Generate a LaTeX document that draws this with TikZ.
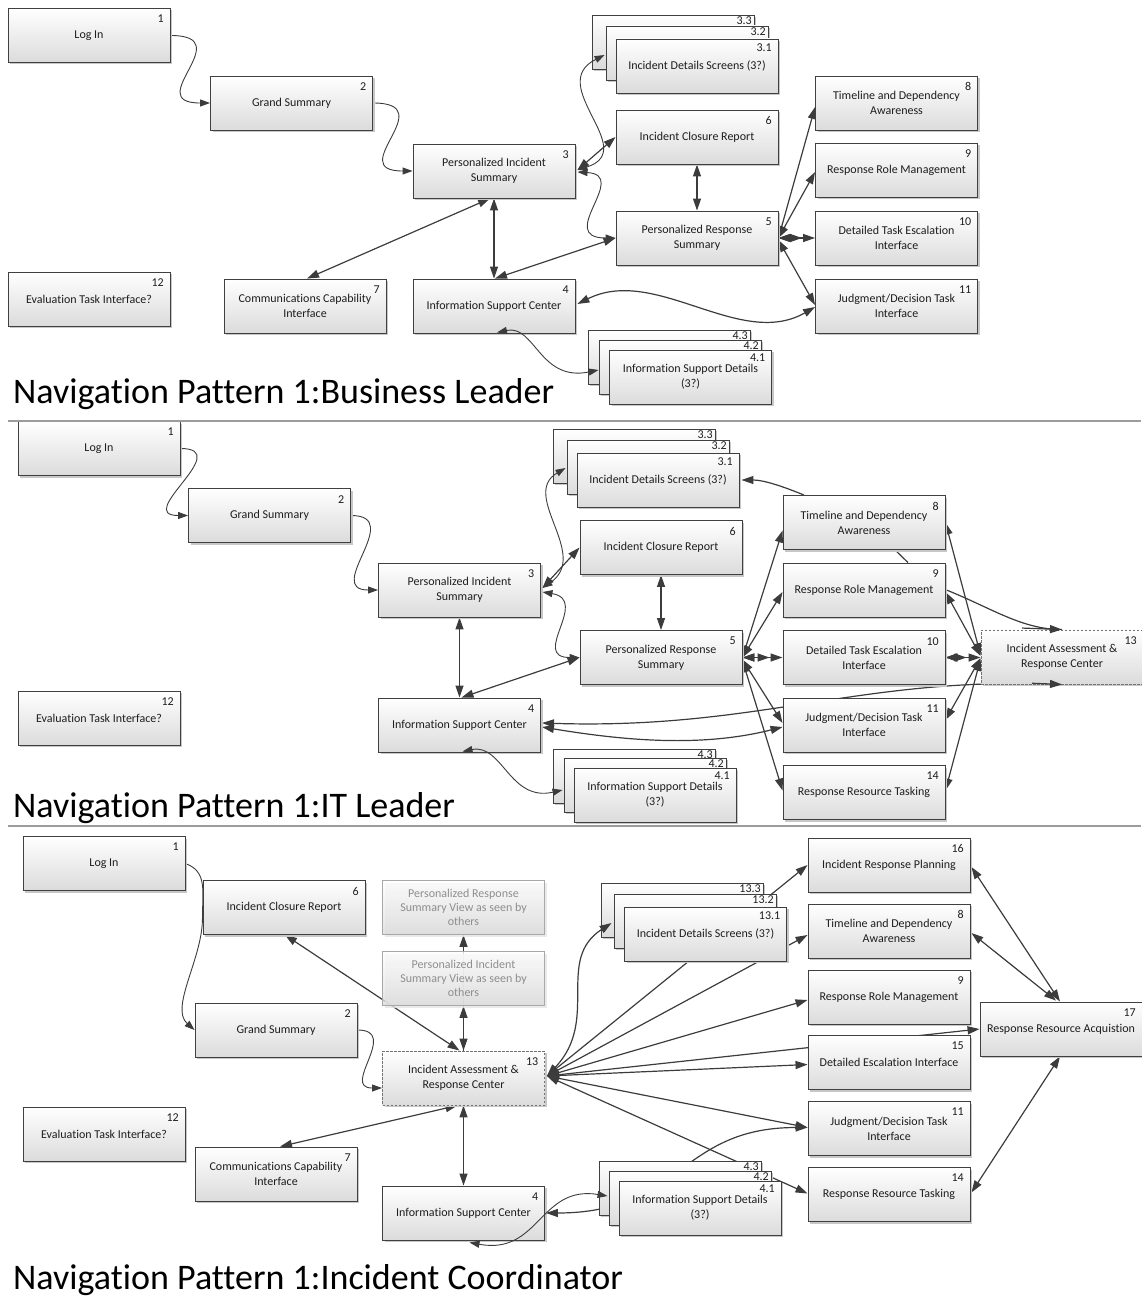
\documentclass[tikz,border=0pt]{standalone}
\usepackage{fontspec}
\setmainfont[Ligatures={NoCommon}]{Carlito}
\usetikzlibrary{arrows.meta,shadows}
\pgfdeclarelayer{wires}
\pgfsetlayers{wires,main}

\definecolor{linec}{HTML}{3C3C3C}
\definecolor{boxline}{HTML}{404040}
\definecolor{txt}{HTML}{1E1E1E}
\definecolor{ghostline}{HTML}{A8A8A8}
\definecolor{ghosttxt}{HTML}{8E8E8E}
\definecolor{rulec}{HTML}{9C9C9C}

\tikzset{
  boxbase/.style={draw=boxline, line width=0.9pt, top color=white, bottom color=black!14,
    minimum width=162pt, minimum height=54pt, inner sep=1pt, align=center, text=txt,
    font=\fontsize{12}{15}\selectfont},
  box/.style={boxbase, general shadow={fill=black!22, shadow xshift=2pt, shadow yshift=-2pt}},
  ghost/.style={boxbase, draw=ghostline, text=ghosttxt, fill opacity=0.8, text opacity=1,
    font=\fontsize{12}{14}\selectfont,
    general shadow={fill=black!10, shadow xshift=2pt, shadow yshift=-2pt}},
  hub/.style={draw=black!55, dash pattern=on 2.5pt off 1.5pt},
  num/.style={inner sep=0pt, anchor=north east, text=txt, font=\fontsize{12}{14}\selectfont},
  title/.style={anchor=base west, inner sep=0pt, text=black, font=\fontsize{36}{40}\selectfont},
  wire/.style={draw=linec, line width=1.2pt},
  twin/.style={wire, {Triangle[length=12pt,width=8pt]}-{Triangle[length=12pt,width=8pt]}},
  one/.style={wire, -{Triangle[length=12pt,width=8pt]}},
  back/.style={wire, {Triangle[length=12pt,width=8pt]}-},
  ctwin/.style={draw=linec, line width=0.9pt, {Triangle[length=10pt,width=7pt]}-{Triangle[length=10pt,width=7pt]}},
  cone/.style={draw=linec, line width=0.9pt, -{Triangle[length=10pt,width=7pt]}},
}

% screen box with its number in the top right corner
\newcommand\navbox[5][]{%
  \node[box,#1] (#2) at (#3) {#4};
  \node[num] (#2-num) at ([shift={(-6.5,7)}]#2.north east) {#5};}
% front box of a stack of screens
\newcommand\navfront[4]{%
  \node[box] (#1) at (#2) {#3};
  \node[num] (#1-num) at ([shift={(-6.5,4.5)}]#1.north east) {#4};}
% back box of a stack of screens
\newcommand\navback[3]{%
  \node[box] (#1) at (#2) {};
  \node[num] (#1-num) at ([shift={(-2.5,1.5)}]#1.north east) {#3};}

\begin{document}
\begin{tikzpicture}[x=1pt,y=-1pt]
\useasboundingbox (0,0) rectangle (1141,1298);

% ---------------- Business Leader ----------------
\navbox{p1n1}{89,35.5}{Log In}{1}
\navbox{p1n2}{291.5,103}{Grand Summary}{2}
\navbox{p1n3}{494,171}{Personalized Incident\\Summary}{3}
\navbox{p1n12}{89,299}{Evaluation Task Interface?}{12}
\navbox{p1n7}{305,306}{Communications Capability\\Interface}{7}
\navbox{p1n4}{494,306}{Information Support Center}{4}
\navback{p1s33}{673,42}{3.3}
\navback{p1s32}{687,53}{3.2}
\navfront{p1n31}{697,66}{Incident Details Screens (3?)}{3.1}
\navbox{p1n6}{697,137}{Incident Closure Report}{6}
\navbox{p1n5}{697,238}{Personalized Response\\Summary}{5}
\navbox{p1n8}{896.5,103}{Timeline and Dependency\\Awareness}{8}
\navbox{p1n9}{896.5,170}{Response Role Management}{9}
\navbox{p1n10}{896.5,238}{Detailed Task Escalation\\Interface}{10}
\navbox{p1n11}{896.5,306}{Judgment/Decision Task\\Interface}{11}
\navback{p1s43}{669,357}{4.3}
\navback{p1s42}{680,367}{4.2}
\navfront{p1n41}{690.5,377}{Information Support Details\\(3?)}{4.1}
\node[title] (t1) at (13,403.5) {Navigation Pattern 1:Business Leader};

% ---------------- IT Leader ----------------
\navbox{p2n1}{99,448.5}{Log In}{1}
\navbox{p2n2}{269.5,515.5}{Grand Summary}{2}
\navbox{p2n3}{459.5,590}{Personalized Incident\\Summary}{3}
\navbox{p2n12}{99,718}{Evaluation Task Interface?}{12}
\navbox{p2n4}{459.5,725}{Information Support Center}{4}
\navback{p2s33}{634,456}{3.3}
\navback{p2s32}{648,467}{3.2}
\navfront{p2n31}{658,480}{Incident Details Screens (3?)}{3.1}
\navbox{p2n6}{661,547.5}{Incident Closure Report}{6}
\navbox{p2n5}{661,657.5}{Personalized Response\\Summary}{5}
\navbox{p2n8}{864,522.5}{Timeline and Dependency\\Awareness}{8}
\navbox{p2n9}{864,590}{Response Role Management}{9}
\navbox{p2n10}{864,657.5}{Detailed Task Escalation\\Interface}{10}
\navbox{p2n11}{864,725}{Judgment/Decision Task\\Interface}{11}
\navbox{p2n14}{864,792.5}{Response Resource Tasking}{14}
\navbox[hub]{p2n13}{1062,657}{Incident Assessment \&\\Response Center}{13}
\navback{p2s43}{634,776}{4.3}
\navback{p2s42}{645,785}{4.2}
\navfront{p2n41}{655,795}{Information Support Details\\(3?)}{4.1}
\node[title] (t2) at (13,817) {Navigation Pattern 1:IT Leader};

% ---------------- Incident Coordinator ----------------
\navbox{p3n1}{104,863.5}{Log In}{1}
\navbox{p3n6}{284,907.5}{Incident Closure Report}{6}
\node[ghost] (p3prv) at (463.5,907.5) {Personalized Response\\Summary View as seen by\\others};
\node[ghost] (p3piv) at (463.5,978.5) {Personalized Incident\\Summary View as seen by\\others};
\navbox{p3n2}{276,1030}{Grand Summary}{2}
\navbox[hub]{p3n13}{463.5,1078}{Incident Assessment \&\\Response Center}{13}
\navbox{p3n12}{104,1134}{Evaluation Task Interface?}{12}
\navbox{p3n7}{276,1174}{Communications Capability\\Interface}{7}
\navbox{p3n4}{463.5,1213}{Information Support Center}{4}
\navback{p3s133}{682,910}{13.3}
\navback{p3s132}{695,921}{13.2}
\navfront{p3n131}{705.5,934}{Incident Details Screens (3?)}{13.1}
\navbox{p3n16}{889,865}{Incident Response Planning}{16}
\navbox{p3n8}{889,931}{Timeline and Dependency\\Awareness}{8}
\navbox{p3n9}{889,997}{Response Role Management}{9}
\navbox{p3n15}{889,1062.5}{Detailed Escalation Interface}{15}
\navbox{p3n11}{889,1128.5}{Judgment/Decision Task\\Interface}{11}
\navbox{p3n14}{889,1194.5}{Response Resource Tasking}{14}
\navbox{p3n17}{1061,1029}{Response Resource Acquistion}{17}
\navback{p3s43}{680,1188}{4.3}
\navback{p3s42}{690,1198}{4.2}
\navfront{p3n41}{700,1208}{Information Support Details\\(3?)}{4.1}
\node[title] (t3) at (13,1289) {Navigation Pattern 1:Incident Coordinator};

% panel rules
\draw[rulec, line width=1.2pt] (8,421) -- (1141,421);
\draw[rulec, line width=1.2pt] (8,826) -- (1141,826);

\begin{pgfonlayer}{wires}
% ---- Business Leader links
\draw[cone] (p1n1.east) .. controls +(70,0) and +(-70,0) .. (p1n2.west);
\draw[cone] (p1n2.east) .. controls +(70,0) and +(-70,0) .. (p1n3.west);
\draw[twin] ([shift={(-4,0)}]p1n3.south) -- ([shift={(2,0)}]p1n7.north);
\draw[twin] (p1n3.south) -- (p1n4.north);
\draw[twin] ([shift={(1,0)}]p1n4.north) -- (p1n5.west);
\draw[twin] ([shift={(2,-1)}]p1n3.east) -- (p1n6.west);
\draw[ctwin] ([shift={(2,1)}]p1n3.east) .. controls +(53,3) and +(-61,0) .. (p1n5.west);
\draw[twin] (p1n6.south) -- (p1n5.north);
\draw[twin] (p1n5.east) -- ([shift={(0,4)}]p1n8.west);
\draw[twin] (p1n5.east) -- ([shift={(0,2)}]p1n9.west);
\draw[twin] (p1n5.east) -- (p1n10.west);
\draw[twin] (p1n5.east) -- ([shift={(-13,0)}]p1n10.west);
\draw[twin] ([shift={(0,2)}]p1n5.east) -- ([shift={(0,-1)}]p1n11.west);
\draw[twin] ([shift={(2,-2)}]p1n4.east) .. controls +(78,-39) and +(-75,43) .. ([shift={(0,1)}]p1n11.west);

% ---- IT Leader links
\draw[cone] (p2n1.east) .. controls +(55,0) and +(-55,0) .. (p2n2.west);
\draw[cone] (p2n2.east) .. controls +(55,0) and +(-55,0) .. (p2n3.west);
\draw[twin] (p2n3.south) -- (p2n4.north);
\draw[twin] ([shift={(2,0)}]p2n4.north) -- (p2n5.west);
\draw[twin] ([shift={(1.5,-2)}]p2n3.east) -- (p2n6.west);
\draw[ctwin] ([shift={(1.5,2)}]p2n3.east) .. controls +(48,8) and +(-50,0) .. (p2n5.west);
\draw[twin] (p2n6.south) -- (p2n5.north);
\draw[twin] (p2n5.east) -- ([shift={(0,8)}]p2n8.west);
\draw[twin] (p2n5.east) -- ([shift={(0,2)}]p2n9.west);
\draw[twin] (p2n5.east) -- (p2n10.west);
\draw[twin] (p2n5.east) -- ([shift={(-13,0)}]p2n10.west);
\draw[twin] ([shift={(0,2)}]p2n5.east) -- ([shift={(0,-2)}]p2n11.west);
\draw[twin] ([shift={(0,3)}]p2n5.east) -- ([shift={(0,-2)}]p2n14.west);
\draw[one] ([shift={(-60,0)}]p2n8.north) .. controls +(-22,-9) and +(22,0) .. ([shift={(2,0)}]p2n31.east);
\draw[wire] ([shift={(31,0)}]p2n8.south) -- ([shift={(44,0)}]p2n9.north);
\draw[wire] ([shift={(1,0)}]p2n9.east) .. controls +(45,18) and +(-40,0) .. (p2n13.north);
\draw[back] ([shift={(1,-2)}]p2n4.east) .. controls +(218,7) and +(-202,-9) .. (p2n13.south);
\draw[twin] ([shift={(1,2)}]p2n4.east) .. controls +(79,13) and +(-83,21) .. ([shift={(0,2)}]p2n11.west);
\draw[twin] ([shift={(0,-2)}]p2n13.west) -- (p2n8.east);
\draw[twin] ([shift={(0,-1)}]p2n13.west) -- ([shift={(0,2)}]p2n9.east);
\draw[twin] (p2n10.east) -- ([shift={(0,0.5)}]p2n13.west);
\draw[twin] (p2n10.east) -- ([shift={(-14,0.5)}]p2n13.west);
\draw[twin] ([shift={(0,1)}]p2n13.west) -- ([shift={(0,-5)}]p2n11.east);
\draw[twin] ([shift={(0,2)}]p2n13.west) -- ([shift={(0,-2)}]p2n14.east);

% ---- Incident Coordinator links
\draw[cone] (p3n1.east) .. controls +(22,8) and +(0,-28) .. ++(17,55)
            .. controls +(0,40) and +(-25,-22) .. (p3n2.west);
\draw[cone] (p3n2.east) .. controls +(43,0) and +(-42,0) .. ([shift={(0,10)}]p3n13.west);
\draw[twin] ([shift={(1,0)}]p3n6.south) -- ([shift={(-4,0)}]p3n13.north);
\draw[one] (p3n13.north) -- (p3prv.south);
\draw[twin] (p3n13.north) -- (p3piv.south);
\draw[twin] ([shift={(-6,0)}]p3n13.south) -- ([shift={(4,0)}]p3n7.north);
\draw[twin] (p3n13.south) -- (p3n4.north);
\draw[twin] ([shift={(2,-2)}]p3n13.east) -- (p3n16.west);
\draw[twin] ([shift={(2,-2)}]p3n13.east) -- ([shift={(0,4)}]p3n8.west);
\draw[twin] ([shift={(2,-2)}]p3n13.east) -- ([shift={(0,3)}]p3n9.west);
\draw[twin] ([shift={(2,-2)}]p3n13.east) -- (p3n17.west);
\draw[twin] ([shift={(2,-2)}]p3n13.east) -- ([shift={(0,2)}]p3n15.west);
\draw[twin] ([shift={(2,-2)}]p3n13.east) -- ([shift={(0,-1)}]p3n11.west);
\draw[twin] ([shift={(2,-2)}]p3n13.east) -- ([shift={(0,-1)}]p3n14.west);
\draw[twin] ([shift={(1,0)}]p3n4.east) .. controls +(135,0) and +(-128,0) .. ([shift={(0,-1)}]p3n11.west);
\draw[twin] ([shift={(1,2)}]p3n16.east) -- ([shift={(-1,0)}]p3n17.north);
\draw[twin] ([shift={(1,2)}]p3n8.east) -- ([shift={(-5,-1)}]p3n17.north);
\draw[twin] ([shift={(1,-2)}]p3n14.east) -- ([shift={(-1,0)}]p3n17.south);
\end{pgfonlayer}

% links into the screen stacks, drawn over the boxes
\draw[ctwin] ([shift={(2,-1)}]p1n3.east) .. controls +(63,-20) and +(-60,30) .. ([shift={(-1,2)}]p1s32.west);
\draw[ctwin] ([shift={(3,-1)}]p1n4.south) .. controls +(38,-8) and +(-59,12) .. ([shift={(0,3)}]p1s42.west);
\draw[ctwin] ([shift={(1.5,-2)}]p2n3.east) .. controls +(48,-33) and +(-46,27) .. ([shift={(-1,1)}]p2s32.west);
\draw[ctwin] ([shift={(3,-1)}]p2n4.south) .. controls +(40,-8) and +(-53,12) .. ([shift={(-1,5)}]p2s42.west);
\draw[twin] ([shift={(2,-2)}]p3n13.east) .. controls +(53.5,-56) and +(-57,37) .. ([shift={(-2,2)}]p3s132.west);
\draw[ctwin] ([shift={(6,2)}]p3n4.south) .. controls +(70,13) and +(-68,-11) .. ([shift={(-1,-2)}]p3s42.west);
% arrow ends that sit on the hub border
\draw[one] ([shift={(-40,-1.5)}]p2n13.north) -- (p2n13.north);
\draw[one] ([shift={(-30,-1.2)}]p2n13.south) -- (p2n13.south);
\end{tikzpicture}
\end{document}
